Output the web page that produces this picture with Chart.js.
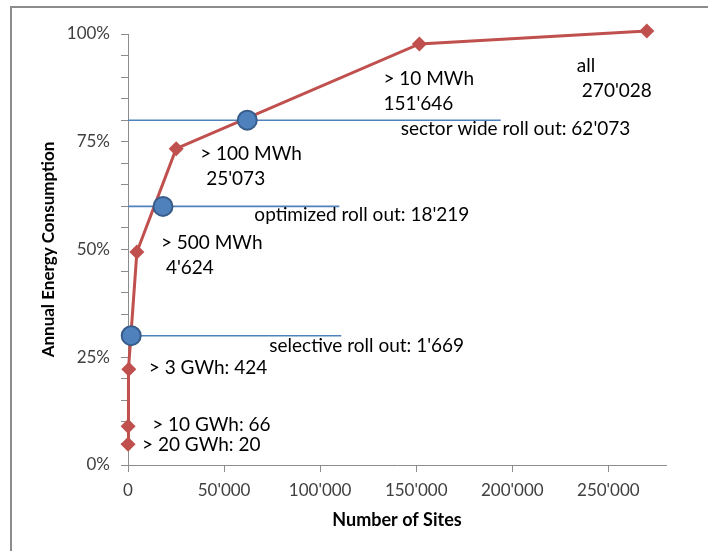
<!DOCTYPE html>
<html>
<head>
<meta charset="utf-8">
<script src="https://cdn.jsdelivr.net/npm/chart.js@4.4.1/dist/chart.umd.min.js"></script>
<style>
  html, body { margin: 0; padding: 0; background: #fff; }
  #wrap { position: relative; width: 708px; height: 551px; }
</style>
</head>
<body>
<div id="wrap"><canvas id="c" width="708" height="551"></canvas></div>
<script>
// Cumulative share of annual energy consumption by number of sites
const sites  = [20, 66, 424, 4624, 25073, 151646, 270028];
const shares = [0.048, 0.090, 0.222, 0.494, 0.734, 0.977, 1.007];
const siteLabels = [
  ['> 20 GWh: 20'],
  ['> 10 GWh: 66'],
  ['> 3 GWh: 424'],
  ['> 500 MWh', "4'624"],
  ['> 100 MWh', "25'073"],
  ['> 10 MWh', "151'646"],
  ['all', "270'028"]
];

// Roll-out scenarios
const rolloutSites  = [1669, 18219, 62073];
const rolloutShares = [0.30, 0.60, 0.80];
const rolloutEnds   = [111000, 110000, 194000];
const rolloutLabels = ["selective roll out: 1'669", "optimized roll out: 18'219", "sector wide roll out: 62'073"];

// Axis ticks
const xTicks = [0, 50000, 100000, 150000, 200000, 250000];
const yTickLabels = ['0%', '25%', '50%', '75%', '100%'];

// Text offsets (px) for each label, relative to its point
const siteLabelOffsets = [[14, 1], [24, -1], [20, -1], [24, -9], [24, 5], [-36, 35], [-70, 35]];
const siteLabelIndent  = [0, 0, 0, 5, 6, 0, 5];
const rolloutLabelOffsets = [[-72, 10], [-85, 8], [-100, 9]];

const FONT = 'Lato, "Open Sans", sans-serif';
const fmtThousands = v => String(Math.round(v)).replace(/\B(?=(\d{3})+(?!\d))/g, "'");

const frame = {
  id: 'frame',
  beforeDraw(chart) {
    const ctx = chart.ctx;
    ctx.save();
    ctx.strokeStyle = '#8c8c8c';
    ctx.lineWidth = 2;
    ctx.beginPath();
    ctx.moveTo(11, 560);
    ctx.lineTo(11, 7);
    ctx.lineTo(720, 7);
    ctx.stroke();
    ctx.restore();
  }
};

const notes = {
  id: 'notes',
  afterDraw(chart) {
    const ctx = chart.ctx;
    const xs = chart.scales.x, ys = chart.scales.y;
    ctx.save();
    ctx.font = '19px ' + FONT;
    ctx.fillStyle = '#000';
    ctx.textAlign = 'left';
    ctx.textBaseline = 'middle';
    sites.forEach((s, i) => {
      const px = xs.getPixelForValue(s), py = ys.getPixelForValue(shares[i]);
      const [dx, dy] = siteLabelOffsets[i];
      siteLabels[i].forEach((t, k) => {
        ctx.fillText(t, px + dx + (k > 0 ? siteLabelIndent[i] : 0), py + dy + k * 25);
      });
    });
    rolloutEnds.forEach((e, i) => {
      const px = xs.getPixelForValue(e), py = ys.getPixelForValue(rolloutShares[i]);
      const [dx, dy] = rolloutLabelOffsets[i];
      ctx.fillText(rolloutLabels[i], px + dx, py + dy);
    });
    ctx.restore();
  }
};

const lineSets = rolloutShares.map((y, i) => ({
  label: rolloutLabels[i],
  data: [{x: 0, y: y}, {x: rolloutEnds[i], y: y}],
  borderColor: '#4F81BD',
  borderWidth: 1.6,
  pointRadius: 0,
  showLine: true
}));

new Chart(document.getElementById('c'), {
  type: 'scatter',
  data: {
    datasets: [
      {
        label: 'roll out',
        data: rolloutSites.map((x, i) => ({x: x, y: rolloutShares[i]})),
        showLine: false,
        pointRadius: 9.5,
        pointBackgroundColor: '#4F81BD',
        pointBorderColor: '#385D8A',
        pointBorderWidth: 2,
        clip: false
      },
      {
        label: 'sites',
        data: sites.map((x, i) => ({x: x, y: shares[i]})),
        showLine: true,
        borderColor: '#C0504D',
        borderWidth: 3,
        pointStyle: 'rectRot',
        pointRadius: 7.5,
        pointBackgroundColor: '#C0504D',
        pointBorderColor: '#C0504D',
        pointBorderWidth: 0,
        clip: false
      },
      ...lineSets
    ]
  },
  options: {
    responsive: false,
    animation: false,
    events: [],
    layout: { padding: { left: 11, top: 34, right: 42, bottom: 0 } },
    plugins: { legend: { display: false }, tooltip: { enabled: false } },
    scales: {
      x: {
        type: 'linear',
        min: 0,
        max: 280000,
        afterBuildTicks: s => { s.ticks = xTicks.map(v => ({value: v})); },
        afterFit: s => { s.height = 86; },
        border: { display: true, color: '#8c8c8c', width: 1 },
        grid: { display: true, drawOnChartArea: false, drawTicks: true, tickLength: 7, color: '#8c8c8c' },
        ticks: {
          padding: 8,
          autoSkip: false,
          color: '#404040',
          font: { family: FONT, size: 17 },
          maxRotation: 0,
          callback: v => fmtThousands(v)
        },
        title: {
          display: true,
          text: 'Number of Sites',
          color: '#000',
          font: { family: FONT, size: 18, weight: 'bold' },
          padding: { top: 0, bottom: 20 }
        }
      },
      y: {
        type: 'linear',
        min: 0,
        max: 1,
        afterFit: s => { s.width = 117; },
        border: { display: true, color: '#8c8c8c', width: 1 },
        grid: { display: true, drawOnChartArea: false, drawTicks: true, tickLength: 7, color: '#8c8c8c' },
        ticks: {
          stepSize: 0.05,
          autoSkip: false,
          padding: 11,
          color: '#404040',
          font: { family: FONT, size: 17 },
          callback: v => {
            const k = Math.round(v * 100);
            return k % 25 === 0 ? yTickLabels[k / 25] : '';
          }
        },
        title: {
          display: true,
          text: 'Annual Energy Consumption',
          color: '#000',
          font: { family: FONT, size: 17, weight: 'bold' },
          padding: { top: 27, bottom: 0 }
        }
      }
    }
  },
  plugins: [frame, notes]
});
</script>
</body>
</html>
